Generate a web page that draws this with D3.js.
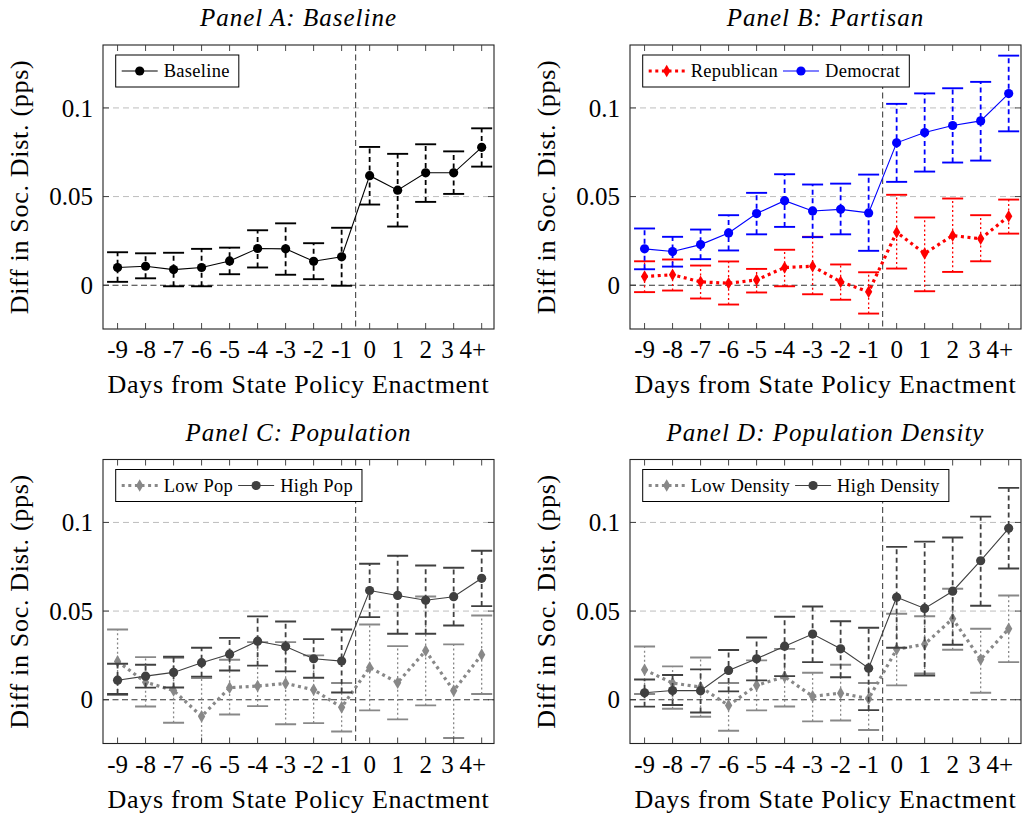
<!DOCTYPE html>
<html><head><meta charset="utf-8">
<script src="https://cdn.jsdelivr.net/npm/d3@7"></script>
<style>
body{margin:0;background:#fff}
svg{display:block}
text{font-family:"Liberation Serif","Times New Roman",serif;fill:#000}
</style>
</head><body>
<svg id="chart" width="1029" height="814"></svg>
<script>
// Event-time categories (days relative to state policy enactment)
const days = ["-9","-8","-7","-6","-5","-4","-3","-2","-1","0","1","2","3","4+"];
const yTicks = [0, 0.05, 0.1];

// Panel A: baseline estimates with 95% bounds
const baseMean = [0.0100,0.0107,0.0088,0.0100,0.0137,0.0207,0.0205,0.0135,0.0160,0.0618,0.0536,0.0634,0.0634,0.0778];
const baseLo   = [0.0019,0.0039,-0.0006,-0.0006,0.0062,0.0100,0.0059,0.0034,-0.0003,0.0455,0.0331,0.0470,0.0515,0.0669];
const baseHi   = [0.0186,0.0180,0.0183,0.0205,0.0212,0.0310,0.0349,0.0237,0.0324,0.0780,0.0741,0.0795,0.0755,0.0885];

// Panel B: partisan split
const repMean = [0.0049,0.0059,0.0019,0.0011,0.0030,0.0100,0.0107,0.0019,-0.0037,0.0299,0.0179,0.0280,0.0262,0.0389];
const repLo   = [-0.0039,-0.0030,-0.0075,-0.0109,-0.0041,-0.0006,-0.0051,-0.0082,-0.0160,0.0094,-0.0034,0.0075,0.0135,0.0291];
const repHi   = [0.0135,0.0145,0.0111,0.0134,0.0092,0.0200,0.0273,0.0117,0.0073,0.0510,0.0382,0.0489,0.0395,0.0483];
const demMean = [0.0205,0.0190,0.0229,0.0295,0.0404,0.0477,0.0419,0.0428,0.0408,0.0803,0.0861,0.0901,0.0927,0.1081];
const demLo   = [0.0090,0.0105,0.0147,0.0196,0.0287,0.0329,0.0271,0.0287,0.0194,0.0583,0.0641,0.0692,0.0703,0.0868];
const demHi   = [0.0320,0.0273,0.0314,0.0395,0.0521,0.0626,0.0568,0.0573,0.0624,0.1023,0.1082,0.1111,0.1147,0.1295];

// Panel C: population split
const lowPopMean  = [0.0216,0.0099,0.0052,-0.0094,0.0068,0.0077,0.0092,0.0056,-0.0043,0.0182,0.0096,0.0276,0.0051,0.0254];
const lowPopLo    = [0.0026,-0.0038,-0.0130,-0.0310,-0.0083,-0.0036,-0.0138,-0.0132,-0.0179,-0.0060,-0.0111,-0.0032,-0.0216,0.0032];
const lowPopHi    = [0.0396,0.0240,0.0237,0.0122,0.0225,0.0325,0.0325,0.0250,0.0094,0.0424,0.0302,0.0582,0.0312,0.0475];
const highPopMean = [0.0110,0.0133,0.0154,0.0209,0.0257,0.0330,0.0300,0.0231,0.0218,0.0616,0.0588,0.0561,0.0581,0.0685];
const highPopLo   = [0.0032,0.0068,0.0069,0.0130,0.0165,0.0192,0.0160,0.0124,0.0041,0.0466,0.0372,0.0372,0.0419,0.0528];
const highPopHi   = [0.0203,0.0197,0.0242,0.0293,0.0349,0.0470,0.0441,0.0342,0.0396,0.0767,0.0812,0.0757,0.0744,0.0840];

// Panel D: population density split
const lowDenMean  = [0.0169,0.0094,0.0071,-0.0032,0.0081,0.0130,0.0019,0.0037,0.0006,0.0284,0.0313,0.0457,0.0227,0.0400];
const lowDenLo    = [0.0032,-0.0051,-0.0096,-0.0175,-0.0060,-0.0038,-0.0122,-0.0117,-0.0171,0.0081,0.0148,0.0282,0.0039,0.0212];
const lowDenHi    = [0.0300,0.0188,0.0238,0.0094,0.0222,0.0287,0.0152,0.0197,0.0094,0.0485,0.0471,0.0626,0.0400,0.0588];
const highDenMean = [0.0039,0.0052,0.0051,0.0165,0.0231,0.0302,0.0370,0.0287,0.0178,0.0578,0.0515,0.0612,0.0784,0.0967];
const highDenLo   = [-0.0039,-0.0030,-0.0072,0.0047,0.0109,0.0133,0.0212,0.0127,-0.0059,0.0293,0.0137,0.0310,0.0530,0.0740];
const highDenHi   = [0.0114,0.0139,0.0171,0.0280,0.0351,0.0468,0.0526,0.0443,0.0406,0.0862,0.0892,0.0915,0.1033,0.1195];

const svg = d3.select("#chart");

const PW = 391, PH = 284;
const panels = [
  {id:"A", title:"Panel A: Baseline", left:103, top:45, series:[
    {label:"Baseline", kind:"solid", color:"#000", mean:baseMean, lo:baseLo, hi:baseHi}]},
  {id:"B", title:"Panel B: Partisan", left:630, top:45, series:[
    {label:"Republican", kind:"dotted", color:"#ff0000", mean:repMean, lo:repLo, hi:repHi},
    {label:"Democrat", kind:"solid", color:"#0000ff", mean:demMean, lo:demLo, hi:demHi}]},
  {id:"C", title:"Panel C: Population", left:103, top:459.5, series:[
    {label:"Low Pop", kind:"dotted", color:"#888888", mean:lowPopMean, lo:lowPopLo, hi:lowPopHi},
    {label:"High Pop", kind:"solid", color:"#404040", mean:highPopMean, lo:highPopLo, hi:highPopHi}]},
  {id:"D", title:"Panel D: Population Density", left:630, top:459.5, series:[
    {label:"Low Density", kind:"dotted", color:"#888888", mean:lowDenMean, lo:lowDenLo, hi:lowDenHi},
    {label:"High Density", kind:"solid", color:"#404040", mean:highDenMean, lo:highDenLo, hi:highDenHi}]}
];

const diamond = d3.symbol().type(d3.symbolDiamond).size(46);

function drawMarker(sel, s, x, y) {
  if (s.kind === "solid") {
    sel.append("circle").attr("cx", x).attr("cy", y).attr("r", 4.6).attr("fill", s.color);
  } else {
    sel.append("path").attr("d", diamond).attr("transform", `translate(${x},${y})`).attr("fill", s.color);
  }
}

function lineStyle(path, s) {
  path.attr("fill", "none").attr("stroke", s.color);
  if (s.kind === "solid") path.attr("stroke-width", 1.1);
  else path.attr("stroke-width", 3.2).attr("stroke-dasharray", "3,3.6");
}

panels.forEach(p => {
  const g = svg.append("g").attr("transform", `translate(${p.left},${p.top})`);
  const x = d3.scaleLinear().domain([-0.52, days.length - 1 + 0.44]).range([0, PW]);
  const y = d3.scaleLinear().domain([-0.0247, 0.1355]).range([PH, 0]);

  const clipId = "clip" + p.id;
  g.append("clipPath").attr("id", clipId).append("rect").attr("width", PW).attr("height", PH);

  // grid lines
  g.append("g").selectAll("line").data(yTicks.filter(v => v !== 0)).join("line")
    .attr("x1", 0).attr("x2", PW).attr("y1", d => y(d)).attr("y2", d => y(d))
    .attr("stroke", "#bdbdbd").attr("stroke-width", 1).attr("stroke-dasharray", "6,4");

  // zero line and enactment marker
  g.append("line").attr("x1", 0).attr("x2", PW).attr("y1", y(0)).attr("y2", y(0))
    .attr("stroke", "#333").attr("stroke-width", 1.1).attr("stroke-dasharray", "6,3.5");
  g.append("line").attr("x1", x(8.5)).attr("x2", x(8.5)).attr("y1", 0).attr("y2", PH)
    .attr("stroke", "#444").attr("stroke-width", 1.1).attr("stroke-dasharray", "6,3.5");

  const plot = g.append("g").attr("clip-path", `url(#${clipId})`);

  p.series.forEach(s => {
    const sg = plot.append("g");
    const idx = d3.range(days.length);
    const capW = 10.5;
    // error bars
    sg.selectAll("line.bar").data(idx).join("line").attr("class", "bar")
      .attr("x1", i => x(i)).attr("x2", i => x(i))
      .attr("y1", i => y(s.lo[i])).attr("y2", i => y(s.hi[i]))
      .attr("stroke", s.color)
      .attr("stroke-width", s.kind === "solid" ? 1.8 : 1.3)
      .attr("stroke-dasharray", s.kind === "solid" ? "5,3.5" : "2,2.6");
    ["lo", "hi"].forEach(k => {
      sg.selectAll("line.cap" + k).data(idx).join("line").attr("class", "cap" + k)
        .attr("x1", i => x(i) - capW).attr("x2", i => x(i) + capW)
        .attr("y1", i => y(s[k][i])).attr("y2", i => y(s[k][i]))
        .attr("stroke", s.color).attr("stroke-width", 1.9);
    });
    // connecting line
    const ln = d3.line().x((d, i) => x(i)).y(d => y(d));
    lineStyle(sg.append("path").attr("d", ln(s.mean)), s);
    // markers
    idx.forEach(i => drawMarker(sg, s, x(i), y(s.mean[i])));
  });

  // frame
  g.append("rect").attr("width", PW).attr("height", PH).attr("fill", "none")
    .attr("stroke", "#222").attr("stroke-width", 1.1);

  // inward ticks on all four sides
  const tk = 6;
  const tg = g.append("g").attr("stroke", "#333").attr("stroke-width", 0.9);
  d3.range(days.length).forEach(i => {
    tg.append("line").attr("x1", x(i)).attr("x2", x(i)).attr("y1", PH).attr("y2", PH - tk);
    tg.append("line").attr("x1", x(i)).attr("x2", x(i)).attr("y1", 0).attr("y2", tk);
  });
  yTicks.forEach(v => {
    tg.append("line").attr("x1", 0).attr("x2", tk).attr("y1", y(v)).attr("y2", y(v));
    tg.append("line").attr("x1", PW).attr("x2", PW - tk).attr("y1", y(v)).attr("y2", y(v));
  });

  // tick labels
  g.append("g").selectAll("text").data(days).join("text")
    .attr("x", (d, i) => x(i)).attr("y", PH + 29)
    .attr("dx", d => d === "4+" ? "-0.35em" : (d === "3" ? "-0.25em" : 0))
    .attr("text-anchor", "middle").attr("font-size", 25).text(d => d);
  g.append("g").selectAll("text").data(yTicks).join("text")
    .attr("x", -10).attr("y", d => y(d)).attr("dy", "0.35em")
    .attr("text-anchor", "end").attr("font-size", 25)
    .text(d => d === 0 ? "0" : String(d));

  // axis titles
  g.append("text").attr("x", PW / 2).attr("y", PH + 64).attr("text-anchor", "middle")
    .attr("font-size", 26).attr("letter-spacing", 0.7).text("Days from State Policy Enactment");
  g.append("text").attr("transform", `translate(-75,${PH / 2}) rotate(-90)`)
    .attr("text-anchor", "middle").attr("font-size", 26).attr("letter-spacing", 0.7)
    .text("Diff in Soc. Dist. (pps)");
  g.append("text").attr("x", PW / 2).attr("y", -19).attr("text-anchor", "middle")
    .attr("font-size", 25).attr("letter-spacing", 1).attr("font-style", "italic").text(p.title);

  // legend
  const lg = g.append("g").attr("transform", "translate(12.7,10)");
  const box = lg.append("rect").attr("height", 32).attr("fill", "#fff")
    .attr("stroke", "#000").attr("stroke-width", 1);
  let cx = 6;
  p.series.forEach((s, k) => {
    const sampleW = 36;
    lineStyle(lg.append("path").attr("d", `M${cx},16H${cx + sampleW}`), s);
    drawMarker(lg, s, cx + sampleW / 2, 16);
    cx += sampleW + 6;
    const t = lg.append("text").attr("x", cx).attr("y", 22).attr("font-size", 18.5)
      .attr("letter-spacing", 0.3).text(s.label);
    cx += t.node().getComputedTextLength() + 5;
  });
  box.attr("width", cx + 4);
});
</script>
</body></html>
